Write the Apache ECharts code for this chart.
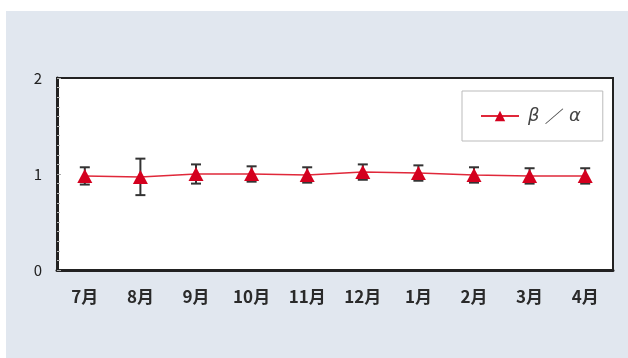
<!DOCTYPE html>
<html lang="ja">
<head>
    <meta charset="UTF-8">
    <title>β/α</title>
    <style>
        * { padding: 0; margin: 0; }
        html, body { width: 100%; height: 100%; background: #fff; }
        .panel {
            position: absolute;
            left: 6px;
            top: 11px;
            right: 0;
            bottom: 0;
            background: #e1e7ef;
        }
        #main { position: absolute; left: 0; top: 0; width: 628px; height: 358px; }
    </style>
</head>
<body>
    <div class="panel"></div>
    <div id="main"></div>
    <script src="https://cdn.jsdelivr.net/npm/echarts@6/dist/echarts.min.js"></script>
    <script>
        // 月
        var months = ['7月', '8月', '9月', '10月', '11月', '12月', '1月', '2月', '3月', '4月'];
        // β/α の平均値
        var ratio = [0.98, 0.97, 1.00, 1.00, 0.99, 1.02, 1.01, 0.99, 0.98, 0.98];
        // 誤差（±）
        var errs = [0.09, 0.19, 0.10, 0.08, 0.08, 0.08, 0.08, 0.08, 0.08, 0.08];
        var yTicks = [0, 1, 2];
        var seriesName = 'β ／ α';

        var errData = ratio.map(function (v, i) {
            return [i, v - errs[i], v + errs[i]];
        });

        var myChart = echarts.init(document.getElementById('main'), null, { renderer: 'canvas' });

        var option = {
            backgroundColor: 'transparent',
            animation: false,
            grid: {
                left: 57,
                right: 15,
                top: 78,
                bottom: 88,
                show: true,
                backgroundColor: '#fff',
                borderColor: '#222',
                borderWidth: 2
            },
            legend: {
                data: [seriesName],
                left: 462,
                top: 91,
                padding: [16, 22, 16, 18],
                backgroundColor: '#fff',
                borderColor: '#bbb',
                borderWidth: 1,
                itemWidth: 38,
                itemHeight: 13,
                itemGap: 6,
                textStyle: {
                    color: '#444',
                    fontSize: 18,
                    fontStyle: 'italic',
                    fontFamily: 'DejaVu Sans',
                    padding: [0, 0, 0, 4]
                }
            },
            xAxis: {
                type: 'category',
                data: months,
                boundaryGap: true,
                axisLine: { lineStyle: { color: '#222', width: 3 } },
                axisTick: { inside: true, length: 4, interval: 0, lineStyle: { color: '#aaa' } },
                axisLabel: {
                    color: '#2a2a2a',
                    fontSize: 17,
                    fontWeight: 'bold',
                    fontFamily: 'Noto Sans CJK JP',
                    margin: 18
                },
                splitLine: { show: false }
            },
            yAxis: {
                type: 'value',
                min: 0,
                max: 2,
                interval: 1,
                axisLine: { show: true, lineStyle: { color: '#222', width: 3 } },
                axisTick: { show: true, inside: true, length: 4, lineStyle: { color: '#aaa' } },
                minorTick: { show: true, splitNumber: 10, length: 3, lineStyle: { color: '#bbb' } },
                axisLabel: {
                    color: '#222',
                    fontSize: 15,
                    fontFamily: 'Noto Sans CJK JP',
                    margin: 15,
                    formatter: function (v) { return yTicks.indexOf(v) >= 0 ? String(v) : ''; }
                },
                splitLine: { show: false }
            },
            series: [{
                name: 'err',
                type: 'custom',
                z: 1,
                data: errData,
                renderItem: function (params, api) {
                    var x = api.value(0);
                    var lo = api.coord([x, api.value(1)]);
                    var hi = api.coord([x, api.value(2)]);
                    var w = 5;
                    var st = { stroke: '#333', lineWidth: 2 };
                    return {
                        type: 'group',
                        children: [
                            { type: 'line', shape: { x1: hi[0], y1: hi[1], x2: lo[0], y2: lo[1] }, style: st },
                            { type: 'line', shape: { x1: hi[0] - w, y1: hi[1], x2: hi[0] + w, y2: hi[1] }, style: st },
                            { type: 'line', shape: { x1: lo[0] - w, y1: lo[1], x2: lo[0] + w, y2: lo[1] }, style: st }
                        ]
                    };
                }
            }, {
                name: seriesName,
                type: 'line',
                z: 3,
                data: ratio,
                symbol: 'triangle',
                symbolSize: [15, 14],
                lineStyle: { color: '#e0283a', width: 1.5 },
                itemStyle: { color: '#d4001e' }
            }]
        };
        myChart.setOption(option);
    </script>
</body>
</html>
